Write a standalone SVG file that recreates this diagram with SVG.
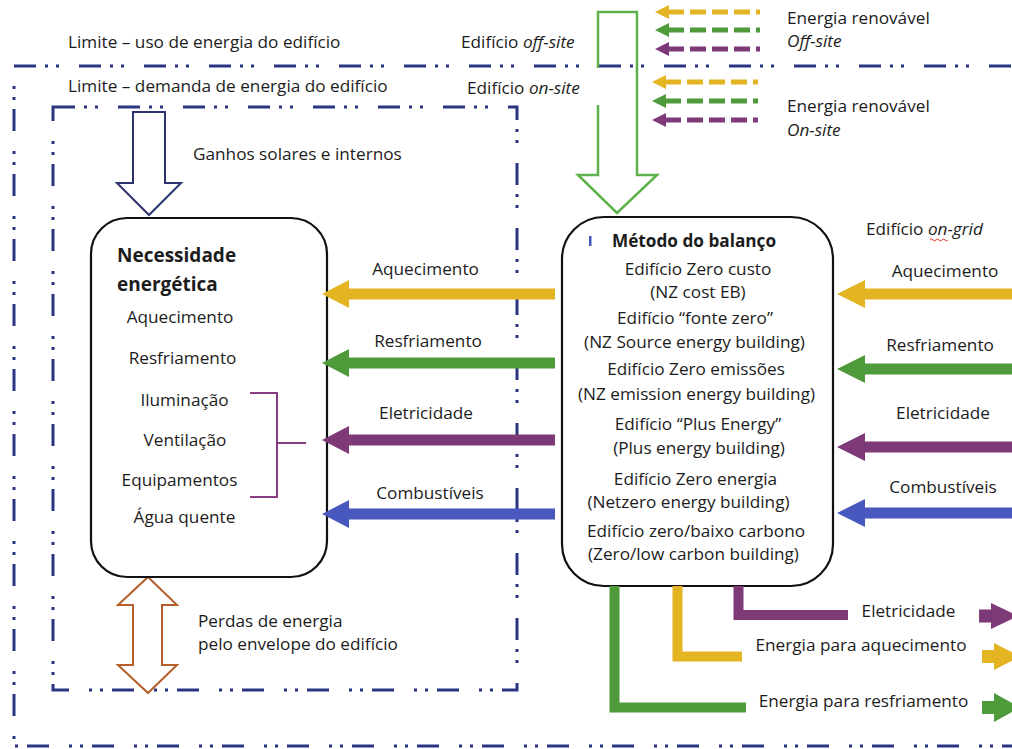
<svg xmlns="http://www.w3.org/2000/svg" width="1012" height="749" viewBox="0 0 1012 749">
<defs>
<style>
.t{font-family:"Open Sans","Liberation Sans",sans-serif;font-size:17.2px;fill:#1c1c1c}
.m{text-anchor:middle}
.b{font-weight:bold}
.i{font-style:italic}
.bd{fill:none;stroke:#2B3480;stroke-width:3;stroke-dasharray:22 9 3 8 3 20}
.box{fill:#fff;stroke:#111;stroke-width:2.2}
.gold{fill:#E5B422}.green{fill:#4F9A3B}.purple{fill:#7E3977}.blue{fill:#4858BE}
.lg{fill:none;stroke-width:10}
.da{fill:none;stroke-width:5;stroke-dasharray:16 6}
</style>
</defs>
<rect width="1012" height="749" fill="#fff"/>

<g id="boundaries">
<rect class="bd" x="14" y="66" width="1010" height="680"/>
<rect class="bd" x="53" y="107" width="464" height="583"/>
</g>

<g id="labels-top">
<text class="t" x="68" y="48">Limite – uso de energia do edifício</text>
<text class="t" x="68" y="92">Limite – demanda de energia do edifício</text>
<text class="t" x="461" y="48">Edifício <tspan class="i">off-site</tspan></text>
<text class="t" x="467" y="94">Edifício <tspan class="i">on-site</tspan></text>
<text class="t" x="787" y="24">Energia renovável</text>
<text class="t i" x="787" y="47">Off-site</text>
<text class="t" x="787" y="112">Energia renovável</text>
<text class="t i" x="787" y="136">On-site</text>
<text class="t" x="866" y="235">Edifício <tspan class="i">on-grid</tspan></text>
<path d="M930,240 q1.5,-2 3,0 t3,0 t3,0 t3,0 t3,0 t3,0" fill="none" stroke="#E03030" stroke-width="1"/>
</g>

<g id="renewable-arrows">
<path class="da" stroke="#E5B422" d="M668,12 H760"/>
<path class="gold" d="M655,12 L669,5 L669,19 Z"/>
<path class="da" stroke="#4F9A3B" d="M668,30 H760"/>
<path class="green" d="M655,30 L669,23 L669,37 Z"/>
<path class="da" stroke="#7E3977" d="M668,49 H760"/>
<path class="purple" d="M655,49 L669,42 L669,56 Z"/>
<path class="da" stroke="#E5B422" d="M665,82 H758"/>
<path class="gold" d="M652,82 L666,75 L666,89 Z"/>
<path class="da" stroke="#4F9A3B" d="M665,101 H758"/>
<path class="green" d="M652,101 L666,94 L666,108 Z"/>
<path class="da" stroke="#7E3977" d="M665,120 H758"/>
<path class="purple" d="M652,120 L666,113 L666,127 Z"/>
</g>

<g id="green-hollow-arrow">
<path d="M598,68 L598,12 L637,12 L637,175 L657,175 L617,213 L578,175 L598,175 L598,105" fill="none" stroke="#5DB14A" stroke-width="2.5"/>
</g>

<g id="gains-arrow">
<path d="M133,112 L165,112 L165,183 L181,183 L149,215 L117,183 L133,183 Z" fill="#fff" stroke="#2B3471" stroke-width="2"/>
<text class="t" x="193" y="160">Ganhos solares e internos</text>
</g>

<g id="losses-arrow">
<path d="M148,577 L177,605 L162,605 L162,665 L177,665 L148,693 L118,665 L133,665 L133,605 L118,605 Z" fill="none" stroke="#B5602B" stroke-width="2"/>
<text class="t" x="198" y="627">Perdas de energia</text>
<text class="t" x="198" y="650">pelo envelope do edifício</text>
</g>

<g id="node-necessidade">
<rect class="box" x="91" y="218" width="236" height="359" rx="36"/>
<text class="t b" x="117" y="262" style="font-size:19px">Necessidade</text>
<text class="t b" x="117" y="291" style="font-size:19px">energética</text>
<text class="t m" x="180" y="323">Aquecimento</text>
<text class="t m" x="182.5" y="364">Resfriamento</text>
<text class="t m" x="184.5" y="406">Iluminação</text>
<text class="t m" x="185" y="446">Ventilação</text>
<text class="t m" x="179.5" y="486">Equipamentos</text>
<text class="t m" x="184.5" y="523">Água quente</text>
<path d="M250,393 H277 V497 H250 M277,443 H306" fill="none" stroke="#8A3C82" stroke-width="2"/>
</g>

<g id="node-balanco">
<rect class="box" x="562" y="217" width="271" height="369" rx="42"/>
<rect x="589" y="236" width="2.5" height="10" fill="#4858BE"/>
<text class="t m b" x="694" y="247">Método do balanço</text>
<text class="t m" x="698" y="275">Edifício Zero custo</text>
<text class="t m" x="698" y="298">(NZ cost EB)</text>
<text class="t m" x="695" y="324">Edifício “fonte zero”</text>
<text class="t m" x="694.5" y="348">(NZ Source energy building)</text>
<text class="t m" x="696" y="375">Edifício Zero emissões</text>
<text class="t m" x="696.5" y="400">(NZ emission energy building)</text>
<text class="t m" x="698" y="430">Edifício “Plus Energy”</text>
<text class="t m" x="699" y="454">(Plus energy building)</text>
<text class="t m" x="695.5" y="485">Edifício Zero energia</text>
<text class="t m" x="688.5" y="508">(Netzero energy building)</text>
<text class="t m" x="696" y="537">Edifício zero/baixo carbono</text>
<text class="t m" x="693.5" y="560">(Zero/low carbon building)</text>
</g>

<g id="connectors">
<path class="gold" d="M322,294 L349,280 L349,288.5 L555,288.5 L555,299.5 L349,299.5 L349,308 Z"/>
<path class="green" d="M322,363 L349,349 L349,357.5 L555,357.5 L555,368.5 L349,368.5 L349,377 Z"/>
<path class="purple" d="M322,440 L349,426 L349,434.5 L555,434.5 L555,445.5 L349,445.5 L349,454 Z"/>
<path class="blue" d="M322,514 L349,500 L349,508.5 L555,508.5 L555,519.5 L349,519.5 L349,528 Z"/>

<path class="gold" d="M837,294 L865,280 L865,288.5 L1015,288.5 L1015,299.5 L865,299.5 L865,308 Z"/>
<path class="green" d="M837,369 L865,355 L865,363.5 L1015,363.5 L1015,374.5 L865,374.5 L865,383 Z"/>
<path class="purple" d="M837,447 L865,433 L865,441.5 L1015,441.5 L1015,452.5 L865,452.5 L865,461 Z"/>
<path class="blue" d="M837,513 L865,499 L865,507.5 L1015,507.5 L1015,518.5 L865,518.5 L865,527 Z"/>

<path class="lg" stroke="#7E3977" d="M738.5,586 V615 H848"/>
<path class="lg" stroke="#E5B422" d="M677.5,586 V656.5 H742"/>
<path class="lg" stroke="#4F9A3B" d="M614.5,586 V707.5 H746"/>

<path class="purple" d="M979,609.5 L991,609.5 L991,603 L1018,616 L991,629 L991,622.5 L979,622.5 Z"/>
<path class="gold" d="M982,650 L994,650 L994,643 L1020,656.5 L994,670 L994,663 L982,663 Z"/>
<path class="green" d="M982,701 L994,701 L994,693 L1020,707.5 L994,722 L994,714 L982,714 Z"/>
</g>

<g id="connector-labels">
<text class="t m" x="425.5" y="275">Aquecimento</text>
<text class="t m" x="428" y="347">Resfriamento</text>
<text class="t m" x="426" y="419">Eletricidade</text>
<text class="t m" x="430" y="499">Combustíveis</text>
<text class="t m" x="945" y="277">Aquecimento</text>
<text class="t m" x="940" y="351">Resfriamento</text>
<text class="t m" x="943" y="419">Eletricidade</text>
<text class="t m" x="943" y="493">Combustíveis</text>
<text class="t m" x="908.5" y="617">Eletricidade</text>
<text class="t m" x="861" y="651">Energia para aquecimento</text>
<text class="t m" x="863.5" y="707">Energia para resfriamento</text>
</g>
</svg>
